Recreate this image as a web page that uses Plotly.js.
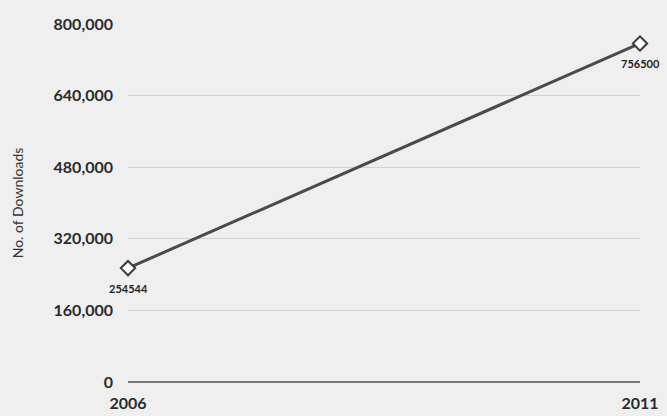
<!DOCTYPE html>
<html><head><meta charset="utf-8">
<script src="https://cdn.plot.ly/plotly-3.0.1.min.js"></script>
<style>html,body{margin:0;padding:0;background:#efefef;}</style>
</head><body>
<div id="chart" style="width:667px;height:416px;"></div>
<script>
var years = [2006, 2011];
var downloads = [254544, 756500];
var tickVals = [0, 160000, 320000, 480000, 640000, 800000];
var tickText = ['0', '160,000', '320,000', '480,000', '640,000', '800,000'];

var trace = {
  x: years, y: downloads, type: 'scatter', mode: 'lines+markers',
  line: {color: '#4a4a4a', width: 3},
  marker: {symbol: 'diamond', size: 11, color: '#ffffff', line: {width: 2, color: '#3a3a3a'}},
  cliponaxis: false, hoverinfo: 'none'
};
var annotations = years.map(function (yr, i) {
  return {x: yr, y: downloads[i], text: String(downloads[i]), showarrow: false,
    yshift: -20, font: {family: 'Lato, sans-serif', size: 11, color: '#222', weight: 'bold'}};
});
var layout = {
  width: 667, height: 416,
  paper_bgcolor: '#efefef', plot_bgcolor: '#efefef',
  margin: {l: 128, r: 27, t: 24, b: 34},
  showlegend: false,
  annotations: annotations,
  font: {family: 'Lato, sans-serif', size: 15, color: '#222'},
  xaxis: {range: [2006, 2011], tickvals: years, ticktext: years.map(String),
    showgrid: false, zeroline: false, showline: false, ticks: '', ticklabelstandoff: 10,
    tickfont: {size: 16, color: '#2a2a2a', weight: 'bold'}},
  yaxis: {range: [0, 800000], tickvals: tickVals, ticktext: tickText,
    showgrid: true, gridcolor: '#d2d2d2', gridwidth: 1,
    zeroline: true, zerolinecolor: '#777', zerolinewidth: 2,
    showline: false, ticks: '', ticklabelstandoff: 14,
    tickfont: {size: 16, color: '#2a2a2a', weight: 'bold'},
    title: {text: 'No. of Downloads', font: {size: 14, color: '#333'}, standoff: 26}}
};
Plotly.newPlot('chart', [trace], layout, {displayModeBar: false, staticPlot: true});
</script>
</body></html>
